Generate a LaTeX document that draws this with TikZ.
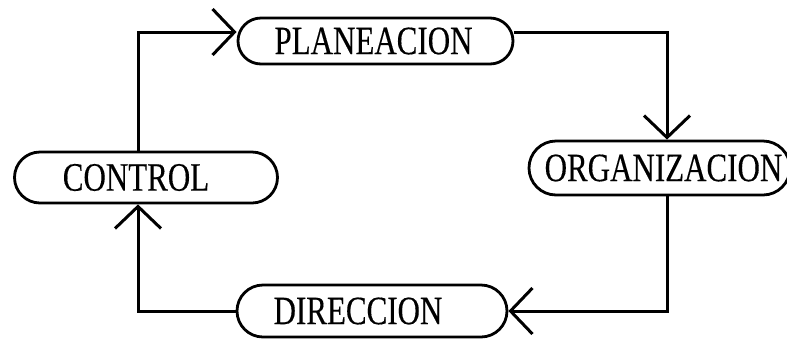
\documentclass[tikz,border=0pt]{standalone}
\usepackage{fontspec}
\setmainfont{Liberation Serif}[FakeBold=0.3]
\usetikzlibrary{arrows.meta,shapes.misc}
\newcommand{\btext}[2]{\hspace*{#1}\makebox[0pt]{\scalebox{1}[1.3]{#2}}\hspace*{-#1}}
\begin{document}
\begin{tikzpicture}[x=0.5pt,y=-0.5pt,
  stage/.style={draw, rounded rectangle, line width=1.4pt, inner sep=0pt,
    font=\fontsize{15.5}{18}\selectfont},
  flow/.style={line width=1.5pt, -{Straight Barb[length=11pt,width=23pt]}}]
\useasboundingbox (0,0) rectangle (787,339);
\node[stage, minimum width=137.5pt, minimum height=23pt] (plan) at (375.5,41) {\btext{-1pt}{PLANEACION}};
\node[stage, minimum width=130.5pt, minimum height=27pt] (org) at (659.5,168) {\btext{2pt}{ORGANIZACION}};
\node[stage, minimum width=131.5pt, minimum height=25.5pt] (ctrl) at (146,177.5) {\btext{-5pt}{CONTROL}};
\node[stage, minimum width=135pt, minimum height=26pt] (dir) at (372,311) {\btext{-7pt}{DIRECCION}};
\draw[flow] ([xshift=-4pt]ctrl.north) |- ([yshift=4.5pt]plan.west);
\draw[flow] ([yshift=4.5pt]plan.east) -| ([xshift=3.75pt]org.north);
\draw[flow] ([xshift=3.75pt]org.south) |- (dir.east);
\draw[flow] (dir.west) -| ([xshift=-4pt]ctrl.south);
\end{tikzpicture}
\end{document}
